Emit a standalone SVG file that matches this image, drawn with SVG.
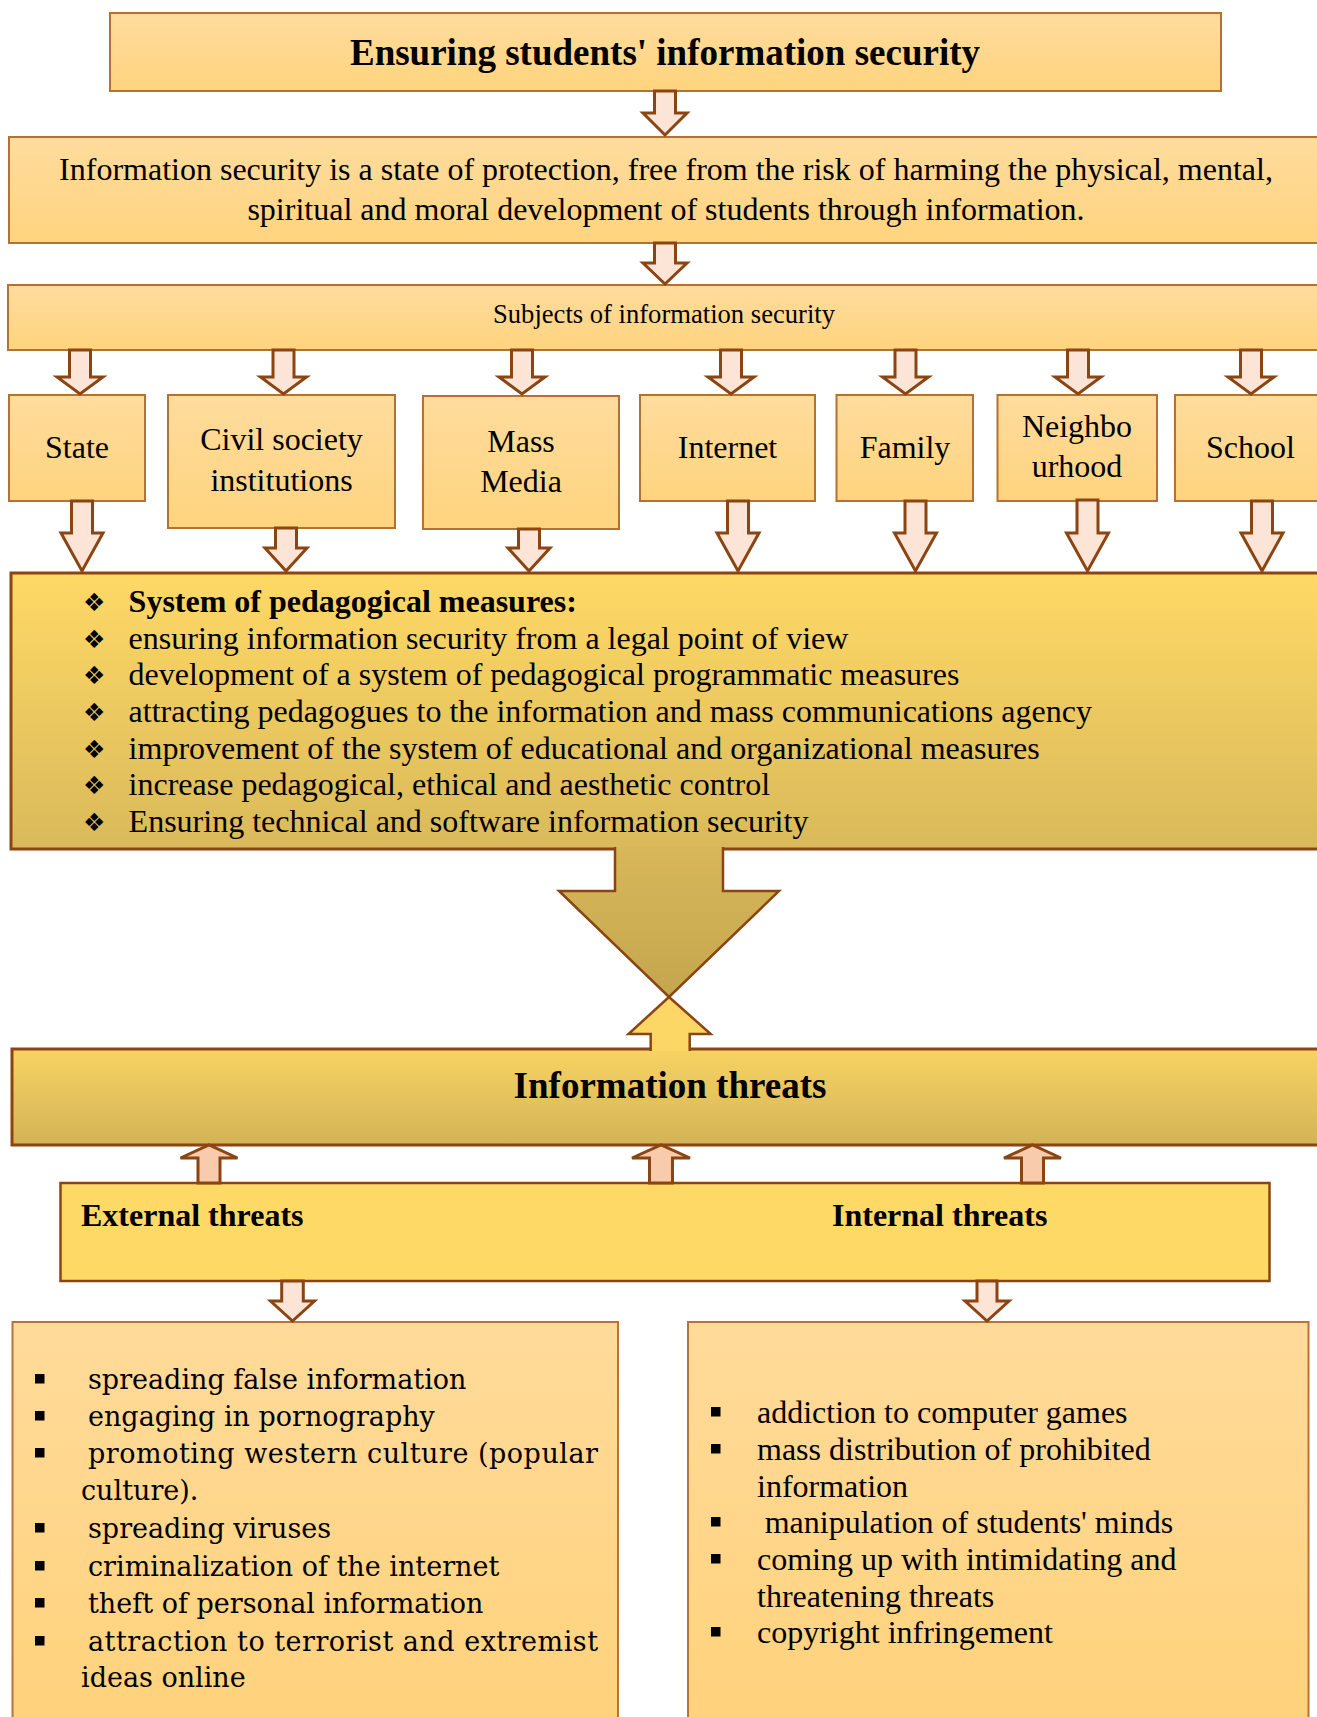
<svg xmlns="http://www.w3.org/2000/svg" width="1317" height="1717" viewBox="0 0 1317 1717">
<defs>
<linearGradient id="gTop" x1="0" y1="0" x2="0" y2="1"><stop offset="0" stop-color="#FFDC9E"/><stop offset="1" stop-color="#FFD47E"/></linearGradient>
<linearGradient id="gMeas" x1="0" y1="0" x2="0" y2="1"><stop offset="0" stop-color="#FFD966"/><stop offset="1" stop-color="#D9B95A"/></linearGradient>
<linearGradient id="gBig" gradientUnits="userSpaceOnUse" x1="0" y1="849" x2="0" y2="997"><stop offset="0" stop-color="#D7B759"/><stop offset="1" stop-color="#C4A64E"/></linearGradient>
<linearGradient id="gThreat" x1="0" y1="0" x2="0" y2="1"><stop offset="0" stop-color="#F8D363"/><stop offset="1" stop-color="#D3B357"/></linearGradient>
<linearGradient id="gLow" x1="0" y1="0" x2="0" y2="1"><stop offset="0" stop-color="#FFDA9A"/><stop offset="1" stop-color="#FFD27A"/></linearGradient>
</defs>
<style>
.bx{fill:url(#gTop);stroke:#B5712F;stroke-width:2}
.meas{fill:url(#gMeas);stroke:#8B4513;stroke-width:3}
.thr{fill:url(#gThreat);stroke:#8B4513;stroke-width:3}
.ei{fill:#FFD966;stroke:#8B4513;stroke-width:2.5}
.low{fill:url(#gLow);stroke:#B8733A;stroke-width:2}
.arr{fill:#FCE4D6;stroke:#8B4513;stroke-width:3;stroke-linejoin:miter}
.arrU{fill:#F8CBAD;stroke:#8B4513;stroke-width:3;stroke-linejoin:miter}
.big{fill:url(#gBig);stroke:#8B4513;stroke-width:2.5}
.up{fill:#FDD765;stroke:#8B4513;stroke-width:2.5}
text{font-family:"Liberation Serif","Times New Roman",serif;fill:#000}
.c{text-anchor:middle}
.b{font-weight:bold}
.s32{font-size:32px}
.cam{font-family:"DejaVu Serif",serif;font-size:27px}
.dia{font-family:"DejaVu Sans",sans-serif;font-size:25px}
</style>
<rect width="1317" height="1717" fill="#FFFFFF"/>

<g id="title">
<rect class="bx" x="110" y="13" width="1111" height="78"/>
<text class="c b" x="665" y="65" font-size="37">Ensuring students' information security</text>
</g>
<g id="definition">
<rect class="bx" x="9" y="137" width="1320" height="106"/>
<text class="c s32" x="666" y="180">Information security is a state of protection, free from the risk of harming the physical, mental,</text>
<text class="c s32" x="666" y="220">spiritual and moral development of students through information.</text>
</g>
<g id="subjects">
<rect class="bx" x="8" y="285" width="1320" height="65"/>
<text class="c" x="664" y="323" font-size="26.6">Subjects of information security</text>
</g>
<g id="state">
<rect class="bx" x="9" y="395" width="136" height="106"/>
<text class="c s32" x="77" y="458">State</text>
</g>
<g id="civil">
<rect class="bx" x="168" y="395" width="227" height="133"/>
<text class="c s32" x="281.5" y="450">Civil society</text>
<text class="c s32" x="281.5" y="491">institutions</text>
</g>
<g id="media">
<rect class="bx" x="423" y="396" width="196" height="133"/>
<text class="c s32" x="521" y="452">Mass</text>
<text class="c s32" x="521" y="492">Media</text>
</g>
<g id="internet">
<rect class="bx" x="640" y="395" width="175" height="106"/>
<text class="c s32" x="727.5" y="458">Internet</text>
</g>
<g id="family">
<rect class="bx" x="836.5" y="395" width="136.5" height="106"/>
<text class="c s32" x="905" y="458">Family</text>
</g>
<g id="neighbourhood">
<rect class="bx" x="997.5" y="395" width="159.5" height="106"/>
<text class="c s32" x="1077" y="437">Neighbo</text>
<text class="c s32" x="1077" y="477">urhood</text>
</g>
<g id="school">
<rect class="bx" x="1175" y="395" width="160" height="106"/>
<text class="c s32" x="1250.5" y="458">School</text>
</g>
<g id="measures">
<rect class="meas" x="11" y="573" width="1320" height="276"/>
<text class="dia" x="83" y="611">❖</text>
<text class="dia" x="83" y="648">❖</text>
<text class="dia" x="83" y="684">❖</text>
<text class="dia" x="83" y="721">❖</text>
<text class="dia" x="83" y="758">❖</text>
<text class="dia" x="83" y="794">❖</text>
<text class="dia" x="83" y="831">❖</text>
<text class="s32 b" x="128.6" y="612">System of pedagogical measures:</text>
<text class="s32" x="128.6" y="648.7">ensuring information security from a legal point of view</text>
<text class="s32" x="128.6" y="685.4">development of a system of pedagogical programmatic measures</text>
<text class="s32" x="128.6" y="722">attracting pedagogues to the information and mass communications agency</text>
<text class="s32" x="128.6" y="758.7">improvement of the system of educational and organizational measures</text>
<text class="s32" x="128.6" y="795.4">increase pedagogical, ethical and aesthetic control</text>
<text class="s32" x="128.6" y="832">Ensuring technical and software information security</text>
</g>
<g id="threats">
<rect class="thr" x="12" y="1049" width="1320" height="96"/>
<text class="c b" x="670" y="1098" font-size="37">Information threats</text>
</g>
<g id="ext-int">
<rect class="ei" x="60.5" y="1183" width="1209" height="98"/>
<text class="s32 b" x="81" y="1226">External threats</text>
<text class="s32 b" x="832" y="1226">Internal threats</text>
</g>
<g id="external-list">
<rect class="low" x="12.5" y="1322" width="605.5" height="420"/>
<rect x="35" y="1374" width="9.5" height="9.5" fill="#000"/>
<rect x="35" y="1411" width="9.5" height="9.5" fill="#000"/>
<rect x="35" y="1448" width="9.5" height="9.5" fill="#000"/>
<rect x="35" y="1523" width="9.5" height="9.5" fill="#000"/>
<rect x="35" y="1561" width="9.5" height="9.5" fill="#000"/>
<rect x="35" y="1598" width="9.5" height="9.5" fill="#000"/>
<rect x="35" y="1636" width="9.5" height="9.5" fill="#000"/>
<text class="cam" x="88" y="1389">spreading false information</text>
<text class="cam" x="88" y="1426">engaging in pornography</text>
<text class="cam" x="88" y="1463" textLength="510" lengthAdjust="spacing">promoting western culture (popular</text>
<text class="cam" x="81" y="1500">culture).</text>
<text class="cam" x="88" y="1538">spreading viruses</text>
<text class="cam" x="88" y="1576">criminalization of the internet</text>
<text class="cam" x="88" y="1613">theft of personal information</text>
<text class="cam" x="88" y="1651" textLength="510" lengthAdjust="spacing">attraction to terrorist and extremist</text>
<text class="cam" x="81" y="1687">ideas online</text>
</g>
<g id="internal-list">
<rect class="low" x="688" y="1322" width="620.5" height="420"/>
<rect x="711" y="1407" width="9.5" height="9.5" fill="#000"/>
<rect x="711" y="1444" width="9.5" height="9.5" fill="#000"/>
<rect x="711" y="1517" width="9.5" height="9.5" fill="#000"/>
<rect x="711" y="1554" width="9.5" height="9.5" fill="#000"/>
<rect x="711" y="1627" width="9.5" height="9.5" fill="#000"/>
<text class="s32" x="757" y="1423">addiction to computer games</text>
<text class="s32" x="757" y="1460">mass distribution of prohibited</text>
<text class="s32" x="757" y="1497">information</text>
<text class="s32" x="764.7" y="1533">manipulation of students' minds</text>
<text class="s32" x="757" y="1570">coming up with intimidating and</text>
<text class="s32" x="757" y="1607">threatening threats</text>
<text class="s32" x="757" y="1643">copyright infringement</text>
</g>

<g id="connectors">
<path class="arr" d="M654.5,91 L675.5,91 L675.5,113 L687,113 L665,135 L643,113 L654.5,113 Z"/>
<path class="arr" d="M654.5,243 L675.5,243 L675.5,263 L687,263 L665,284 L643,263 L654.5,263 Z"/>
<path class="arr" d="M69.5,350 L90.5,350 L90.5,377 L103,377 L80,394 L57,377 L69.5,377 Z"/>
<path class="arr" d="M273,350 L294,350 L294,377 L306.5,377 L283.5,394 L260.5,377 L273,377 Z"/>
<path class="arr" d="M511.5,350 L532.5,350 L532.5,377 L545,377 L522,394 L499,377 L511.5,377 Z"/>
<path class="arr" d="M720.5,350 L741.5,350 L741.5,377 L754,377 L731,394 L708,377 L720.5,377 Z"/>
<path class="arr" d="M895,350 L916,350 L916,377 L928.5,377 L905.5,394 L882.5,377 L895,377 Z"/>
<path class="arr" d="M1067.5,350 L1088.5,350 L1088.5,377 L1101,377 L1078,394 L1055,377 L1067.5,377 Z"/>
<path class="arr" d="M1240.5,350 L1261.5,350 L1261.5,377 L1274,377 L1251,394 L1228,377 L1240.5,377 Z"/>
<path class="arr" d="M71.5,501 L92.5,501 L92.5,533 L103,533 L82,571 L61,533 L71.5,533 Z"/>
<path class="arr" d="M275.5,528 L296.5,528 L296.5,548 L307,548 L286,571 L265,548 L275.5,548 Z"/>
<path class="arr" d="M518.5,529 L539.5,529 L539.5,548 L550,548 L529,571 L508,548 L518.5,548 Z"/>
<path class="arr" d="M727.5,501 L748.5,501 L748.5,533 L759,533 L738,571 L717,533 L727.5,533 Z"/>
<path class="arr" d="M905,501 L926,501 L926,533 L936.5,533 L915.5,571 L894.5,533 L905,533 Z"/>
<path class="arr" d="M1077,500 L1098,500 L1098,533 L1108.5,533 L1087.5,571 L1066.5,533 L1077,533 Z"/>
<path class="arr" d="M1251.5,501 L1272.5,501 L1272.5,533 L1283,533 L1262,571 L1241,533 L1251.5,533 Z"/>
<path class="big" d="M615,847 L615,891 L559,891 L669,997 L779,891 L723,891 L723,847"/>
<path class="up" d="M650.7,1051 L650.7,1034 L628.5,1034 L669,997 L710.7,1034 L689.7,1034 L689.7,1051"/>
<path class="arrU" d="M198,1183 L198,1158 L180.5,1158 L209,1145 L237.5,1158 L220,1158 L220,1183 Z"/>
<path class="arrU" d="M649.5,1183 L649.5,1158 L632,1158 L661,1145 L690,1158 L672.5,1158 L672.5,1183 Z"/>
<path class="arrU" d="M1021.5,1183 L1021.5,1158 L1004,1158 L1032.5,1145 L1061,1158 L1043.5,1158 L1043.5,1183 Z"/>
<path class="arr" d="M281.7,1281 L303.3,1281 L303.3,1301 L314.5,1301 L292.5,1321 L270.5,1301 L281.7,1301 Z"/>
<path class="arr" d="M977,1281 L997,1281 L997,1301 L1009,1301 L987,1321 L965,1301 L977,1301 Z"/>
</g>
</svg>
